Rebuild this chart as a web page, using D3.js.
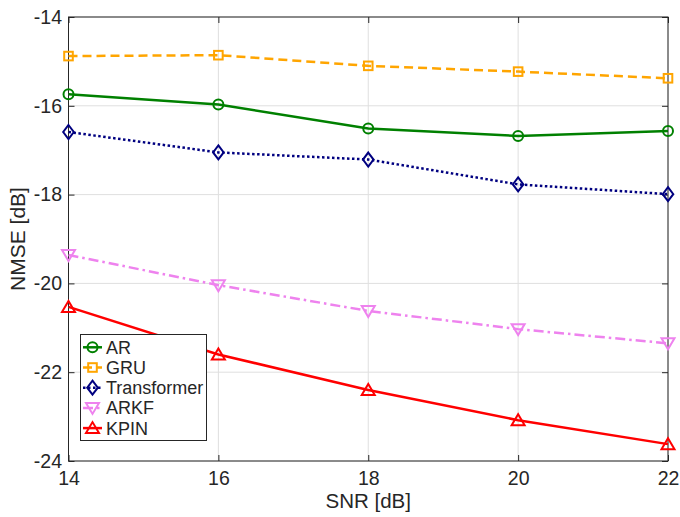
<!DOCTYPE html>
<html>
<head>
<meta charset="utf-8">
<script src="https://cdn.jsdelivr.net/npm/d3@7"></script>
<style>
  body { margin: 0; background: #fff; }
  text { font-family: Arial, "Liberation Sans", Helvetica, sans-serif; fill: #262626; }
</style>
</head>
<body>
<svg id="chart" width="680" height="517"></svg>
<script>
// datos
const snr = [14, 16, 18, 20, 22];
const arValues = [-15.74, -15.97, -16.51, -16.68, -16.57];
const gruValues = [-14.88, -14.86, -15.10, -15.23, -15.38];
const transformerValues = [-16.59, -17.05, -17.21, -17.77, -17.99];
const arkfValues = [-19.36, -20.04, -20.62, -21.03, -21.35];
const kpinValues = [-20.53, -21.60, -22.40, -23.08, -23.62];
const xTicks = [14, 16, 18, 20, 22];
const yTicks = [-24, -22, -20, -18, -16, -14];

const series = [
    { name: "AR", values: arValues, color: "#008000", dash: null, marker: "circle" },
    { name: "GRU", values: gruValues, color: "#FFA500", dash: "9,5", marker: "square" },
    { name: "Transformer", values: transformerValues, color: "#000080", dash: "2.5,2.5", marker: "diamond" },
    { name: "ARKF", values: arkfValues, color: "#EE82EE", dash: "10,4,2.5,4", marker: "tridown" },
    { name: "KPIN", values: kpinValues, color: "#FF0000", dash: null, marker: "triup" }
];

const svg = d3.select("#chart");
const margin = { left: 68.5, right: 12, top: 17, bottom: 56 };
const width = 680, height = 517;
const innerW = width - margin.left - margin.right;
const innerH = height - margin.top - margin.bottom;

const x = d3.scaleLinear().domain([14, 22]).range([margin.left, margin.left + innerW]);
const y = d3.scaleLinear().domain([-24, -14]).range([margin.top + innerH, margin.top]);

// cuadrícula
const grid = svg.append("g");
grid.selectAll("line.vx").data(xTicks).enter().append("line")
    .attr("x1", d => x(d)).attr("x2", d => x(d))
    .attr("y1", y(-24)).attr("y2", y(-14))
    .attr("stroke", "#dfdfdf").attr("stroke-width", 1);
grid.selectAll("line.hy").data(yTicks).enter().append("line")
    .attr("y1", d => y(d)).attr("y2", d => y(d))
    .attr("x1", x(14)).attr("x2", x(22))
    .attr("stroke", "#dfdfdf").attr("stroke-width", 1);

// ejes (ticks hacia dentro)
const tickLen = 6;
const fmt = d => String(d); // guion normal, como en la figura
svg.append("g")
    .attr("transform", `translate(0,${y(-24)})`)
    .call(d3.axisBottom(x).tickValues(xTicks).tickFormat(fmt).tickSizeInner(-tickLen).tickSizeOuter(0).tickPadding(10))
    .call(g => g.select(".domain").remove())
    .call(g => g.selectAll("line").attr("stroke", "#262626"))
    .call(g => g.selectAll("text").attr("font-size", "19.5px").attr("fill", "#262626"));
svg.append("g")
    .attr("transform", `translate(${x(14)},0)`)
    .call(d3.axisLeft(y).tickValues(yTicks).tickFormat(fmt).tickSizeInner(-tickLen).tickSizeOuter(0).tickPadding(6.5))
    .call(g => g.select(".domain").remove())
    .call(g => g.selectAll("line").attr("stroke", "#262626"))
    .call(g => g.selectAll("text").attr("font-size", "19.5px").attr("fill", "#262626"));
svg.append("g")
    .attr("transform", `translate(0,${y(-14)})`)
    .call(d3.axisTop(x).tickValues(xTicks).tickSizeInner(-tickLen).tickSizeOuter(0).tickFormat(""))
    .call(g => g.select(".domain").remove())
    .call(g => g.selectAll("line").attr("stroke", "#262626"));
svg.append("g")
    .attr("transform", `translate(${x(22)},0)`)
    .call(d3.axisRight(y).tickValues(yTicks).tickSizeInner(-tickLen).tickSizeOuter(0).tickFormat(""))
    .call(g => g.select(".domain").remove())
    .call(g => g.selectAll("line").attr("stroke", "#262626"));

// caja
svg.append("rect")
    .attr("x", x(14)).attr("y", y(-14))
    .attr("width", x(22) - x(14)).attr("height", y(-24) - y(-14))
    .attr("fill", "none").attr("stroke", "#262626").attr("stroke-width", 1);

// títulos de ejes
svg.append("text")
    .attr("x", (x(14) + x(22)) / 2).attr("y", 508)
    .attr("text-anchor", "middle").attr("font-size", "20.5px")
    .text("SNR [dB]");
svg.append("text")
    .attr("transform", `translate(25,${(y(-14) + y(-24)) / 2}) rotate(-90)`)
    .attr("text-anchor", "middle").attr("font-size", "21px")
    .text("NMSE [dB]");

// marcadores
function drawMarker(g, type, cx, cy, color) {
    if (type === "circle") {
        g.append("circle").attr("cx", cx).attr("cy", cy).attr("r", 5)
            .attr("fill", "none").attr("stroke", color).attr("stroke-width", 2);
    } else if (type === "square") {
        g.append("rect").attr("x", cx - 4.3).attr("y", cy - 4.3).attr("width", 8.6).attr("height", 8.6)
            .attr("fill", "none").attr("stroke", color).attr("stroke-width", 2);
    } else if (type === "diamond") {
        g.append("path").attr("d", `M${cx},${cy - 7}L${cx + 5.3},${cy}L${cx},${cy + 7}L${cx - 5.3},${cy}Z`)
            .attr("fill", "none").attr("stroke", color).attr("stroke-width", 2);
    } else if (type === "tridown") {
        g.append("path").attr("d", `M${cx - 6.5},${cy - 5}L${cx + 6.5},${cy - 5}L${cx},${cy + 6}Z`)
            .attr("fill", "none").attr("stroke", color).attr("stroke-width", 2);
    } else if (type === "triup") {
        g.append("path").attr("d", `M${cx - 6.5},${cy + 5}L${cx + 6.5},${cy + 5}L${cx},${cy - 6}Z`)
            .attr("fill", "none").attr("stroke", color).attr("stroke-width", 2);
    }
}

const line = d3.line().x(d => x(d[0])).y(d => y(d[1]));

series.forEach(s => {
    const pts = snr.map((v, i) => [v, s.values[i]]);
    const g = svg.append("g");
    g.append("path")
        .datum(pts)
        .attr("d", line)
        .attr("fill", "none")
        .attr("stroke", s.color)
        .attr("stroke-width", 2.5)
        .attr("stroke-dasharray", s.dash);
    pts.forEach(p => drawMarker(g, s.marker, x(p[0]), y(p[1]), s.color));
});

// leyenda
const lg = svg.append("g");
lg.append("rect")
    .attr("x", 80.5).attr("y", 334.5).attr("width", 126).attr("height", 106)
    .attr("fill", "#fff").attr("stroke", "#262626").attr("stroke-width", 1);
series.forEach((s, i) => {
    const cy = 347.3 + i * 20.2;
    lg.append("line")
        .attr("x1", 83).attr("x2", 102).attr("y1", cy).attr("y2", cy)
        .attr("stroke", s.color).attr("stroke-width", 2.5)
        .attr("stroke-dasharray", s.dash);
    drawMarker(lg, s.marker, 92.5, cy, s.color);
    lg.append("text")
        .attr("x", 106).attr("y", cy).attr("dy", "0.36em")
        .attr("font-size", "18px").attr("fill", "#000")
        .text(s.name);
});
</script>
</body>
</html>
